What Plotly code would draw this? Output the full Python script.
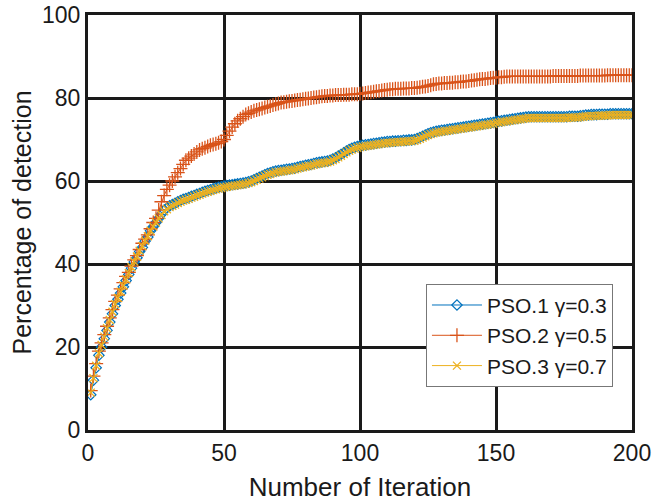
import plotly.graph_objects as go

iterations = list(range(1, 201))

pso1 = [
    8.5, 12.0, 15.0, 18.0, 20.0, 22.0, 24.0, 26.0, 28.0, 30.0,
    31.5, 33.0, 34.5, 36.0, 37.5, 39.0, 40.5, 41.5, 43.0, 44.0,
    45.5, 46.5, 48.0, 49.0, 50.0, 51.0, 52.0, 53.0, 53.5, 54.0,
    54.3, 54.6, 55.0, 55.3, 55.6, 55.8, 56.0, 56.3, 56.5, 56.8,
    57.0, 57.3, 57.5, 57.7, 57.9, 58.1, 58.3, 58.5, 58.6, 58.8,
    58.9, 59.0, 59.1, 59.2, 59.3, 59.4, 59.5, 59.6, 59.8, 60.0,
    60.3, 60.6, 60.9, 61.2, 61.5, 61.8, 62.0, 62.2, 62.4, 62.5,
    62.6, 62.7, 62.8, 62.9, 63.0, 63.1, 63.3, 63.5, 63.6, 63.8,
    63.9, 64.0, 64.2, 64.4, 64.5, 64.6, 64.7, 64.8, 65.0, 65.3,
    65.6, 66.0, 66.4, 66.8, 67.2, 67.6, 67.9, 68.1, 68.3, 68.5,
    68.6, 68.7, 68.8, 68.9, 69.0, 69.1, 69.2, 69.3, 69.4, 69.5,
    69.5, 69.6, 69.6, 69.7, 69.7, 69.8, 69.8, 69.9, 69.9, 70.0,
    70.2, 70.5, 70.8, 71.1, 71.4, 71.6, 71.8, 72.0, 72.1, 72.2,
    72.3, 72.4, 72.5, 72.6, 72.7, 72.8, 72.9, 73.0, 73.1, 73.2,
    73.3, 73.4, 73.5, 73.6, 73.7, 73.8, 73.9, 74.0, 74.1, 74.3,
    74.4, 74.5, 74.6, 74.7, 74.8, 74.9, 75.0, 75.1, 75.2, 75.3,
    75.4, 75.5, 75.5, 75.5, 75.5, 75.5, 75.5, 75.5, 75.5, 75.5,
    75.5, 75.5, 75.5, 75.5, 75.5, 75.5, 75.6, 75.6, 75.6, 75.6,
    75.7, 75.8, 75.9, 75.9, 76.0, 76.0, 76.0, 76.1, 76.1, 76.1,
    76.1, 76.2, 76.2, 76.2, 76.2, 76.2, 76.2, 76.2, 76.2, 76.2,
]

pso2 = [
    9.5, 13.0, 16.0, 19.0, 21.0, 23.0, 25.0, 27.0, 29.0, 31.0,
    32.5, 34.0, 35.5, 37.0, 38.0, 39.5, 41.0, 42.0, 43.5, 45.0,
    46.0, 47.0, 48.5, 50.0, 51.0, 53.0, 55.0, 56.5, 58.0, 59.0,
    60.0, 61.0, 62.0, 63.0, 64.0, 65.0, 65.5, 66.0, 66.5, 67.0,
    67.5, 67.8, 68.0, 68.3, 68.6, 68.8, 69.0, 69.2, 69.5, 70.0,
    71.0, 72.0, 73.0, 73.8, 74.5, 75.0, 75.5, 76.0, 76.3, 76.6,
    76.9, 77.1, 77.3, 77.5, 77.7, 77.9, 78.1, 78.3, 78.5, 78.7,
    78.9, 79.0, 79.1, 79.2, 79.3, 79.4, 79.5, 79.6, 79.7, 79.8,
    79.9, 80.0, 80.1, 80.2, 80.3, 80.4, 80.5, 80.5, 80.6, 80.6,
    80.7, 80.7, 80.7, 80.8, 80.8, 80.8, 80.9, 80.9, 80.9, 81.0,
    81.1, 81.2, 81.3, 81.4, 81.5, 81.6, 81.7, 81.8, 81.9, 82.0,
    82.1, 82.1, 82.2, 82.2, 82.2, 82.3, 82.3, 82.3, 82.4, 82.4,
    82.5, 82.6, 82.7, 82.8, 82.9, 83.1, 83.3, 83.4, 83.5, 83.5,
    83.6, 83.6, 83.7, 83.7, 83.8, 83.8, 83.9, 84.0, 84.0, 84.1,
    84.2, 84.3, 84.4, 84.5, 84.6, 84.6, 84.7, 84.8, 84.9, 84.9,
    85.0, 85.0, 85.1, 85.2, 85.2, 85.2, 85.2, 85.2, 85.2, 85.2,
    85.2, 85.2, 85.2, 85.2, 85.2, 85.2, 85.2, 85.2, 85.2, 85.2,
    85.3, 85.3, 85.3, 85.3, 85.3, 85.3, 85.3, 85.3, 85.3, 85.3,
    85.4, 85.4, 85.4, 85.4, 85.4, 85.4, 85.4, 85.4, 85.4, 85.4,
    85.5, 85.5, 85.5, 85.5, 85.5, 85.5, 85.5, 85.5, 85.5, 85.5,
]

pso3 = [
    9.0, 12.5, 15.5, 18.5, 20.5, 22.5, 24.5, 26.5, 28.5, 30.3,
    31.8, 33.3, 34.8, 36.3, 37.8, 39.2, 40.6, 41.8, 43.2, 44.3,
    45.6, 46.7, 48.0, 49.0, 50.0, 51.0, 51.8, 52.7, 53.2, 53.7,
    54.0, 54.3, 54.7, 55.0, 55.3, 55.5, 55.7, 56.0, 56.2, 56.5,
    56.7, 57.0, 57.2, 57.4, 57.6, 57.8, 58.0, 58.2, 58.3, 58.5,
    58.6, 58.7, 58.8, 58.9, 59.0, 59.1, 59.2, 59.3, 59.5, 59.7,
    60.0, 60.3, 60.6, 60.9, 61.2, 61.5, 61.7, 61.9, 62.1, 62.2,
    62.3, 62.4, 62.5, 62.6, 62.7, 62.8, 63.0, 63.2, 63.3, 63.5,
    63.6, 63.7, 63.9, 64.1, 64.2, 64.3, 64.4, 64.5, 64.7, 65.0,
    65.3, 65.7, 66.1, 66.5, 66.9, 67.3, 67.6, 67.8, 68.0, 68.2,
    68.3, 68.4, 68.5, 68.6, 68.7, 68.8, 68.9, 69.0, 69.1, 69.2,
    69.2, 69.3, 69.3, 69.4, 69.4, 69.5, 69.5, 69.6, 69.6, 69.7,
    69.9, 70.2, 70.5, 70.8, 71.1, 71.3, 71.5, 71.7, 71.8, 71.9,
    72.0, 72.1, 72.2, 72.3, 72.4, 72.5, 72.6, 72.7, 72.8, 72.9,
    73.0, 73.1, 73.2, 73.3, 73.4, 73.5, 73.6, 73.7, 73.8, 74.0,
    74.1, 74.2, 74.3, 74.4, 74.5, 74.6, 74.7, 74.8, 74.9, 75.0,
    75.1, 75.2, 75.2, 75.2, 75.2, 75.2, 75.2, 75.2, 75.2, 75.2,
    75.2, 75.2, 75.2, 75.2, 75.2, 75.2, 75.3, 75.3, 75.3, 75.3,
    75.4, 75.5, 75.6, 75.6, 75.7, 75.7, 75.7, 75.8, 75.8, 75.8,
    75.8, 75.9, 75.9, 75.9, 75.9, 75.9, 75.9, 75.9, 75.9, 75.9,
]

series_names = ["PSO.1 γ=0.3", "PSO.2 γ=0.5", "PSO.3 γ=0.7"]
x_ticks = [0, 50, 100, 150, 200]
y_ticks = [0, 20, 40, 60, 80, 100]

FONT = "Liberation Sans, Arial, sans-serif"
INK = "#1a1a1a"

fig = go.Figure()
fig.add_trace(go.Scatter(
    x=iterations, y=pso1, name=series_names[0], mode="lines+markers",
    line=dict(color="#0072BD", width=1),
    marker=dict(symbol="diamond-open", size=8, color="#0072BD", line=dict(width=1.2)),
))
fig.add_trace(go.Scatter(
    x=iterations, y=pso2, name=series_names[1], mode="lines+markers",
    line=dict(color="#D95319", width=1),
    marker=dict(symbol="cross-thin-open", size=10, color="#D95319", line=dict(width=1.3, color="#D95319")),
))
fig.add_trace(go.Scatter(
    x=iterations, y=pso3, name=series_names[2], mode="lines+markers",
    line=dict(color="#EDB120", width=1),
    marker=dict(symbol="x-thin-open", size=8, color="#EDB120", line=dict(width=1.3, color="#EDB120")),
))

axis_common = dict(
    showgrid=True, gridcolor=INK, gridwidth=3,
    showline=True, linecolor=INK, linewidth=3, mirror=True,
    zeroline=False, ticks="", automargin=False,
    ticklabeloverflow="allow",
    tickfont=dict(family=FONT, size=23, color=INK),
)

fig.update_layout(
    width=652, height=503,
    margin=dict(l=88, r=20, t=15, b=73),
    paper_bgcolor="white", plot_bgcolor="white",
    font=dict(family=FONT, color=INK),
    xaxis=dict(range=[0, 200], tickvals=x_ticks,
               title=dict(text="Number of Iteration", font=dict(size=26, color=INK), standoff=14),
               **axis_common),
    yaxis=dict(range=[0, 100], tickvals=y_ticks,
               title=dict(text="Percentage of detection", font=dict(size=25, color=INK), standoff=4),
               **axis_common),
    legend=dict(
        x=0.965, y=0.104, xanchor="right", yanchor="bottom",
        bgcolor="white", bordercolor="#777777", borderwidth=1,
        font=dict(family=FONT, size=21, color=INK),
        tracegroupgap=0, itemwidth=50,
    ),
    showlegend=True,
)

# remove the default page margin so the 652x503 figure sits at the window origin
fig.write_html(
    "out.html",
    config={"displayModeBar": False},
    post_script="document.body.style.margin='0px';document.body.style.overflow='hidden';",
)
